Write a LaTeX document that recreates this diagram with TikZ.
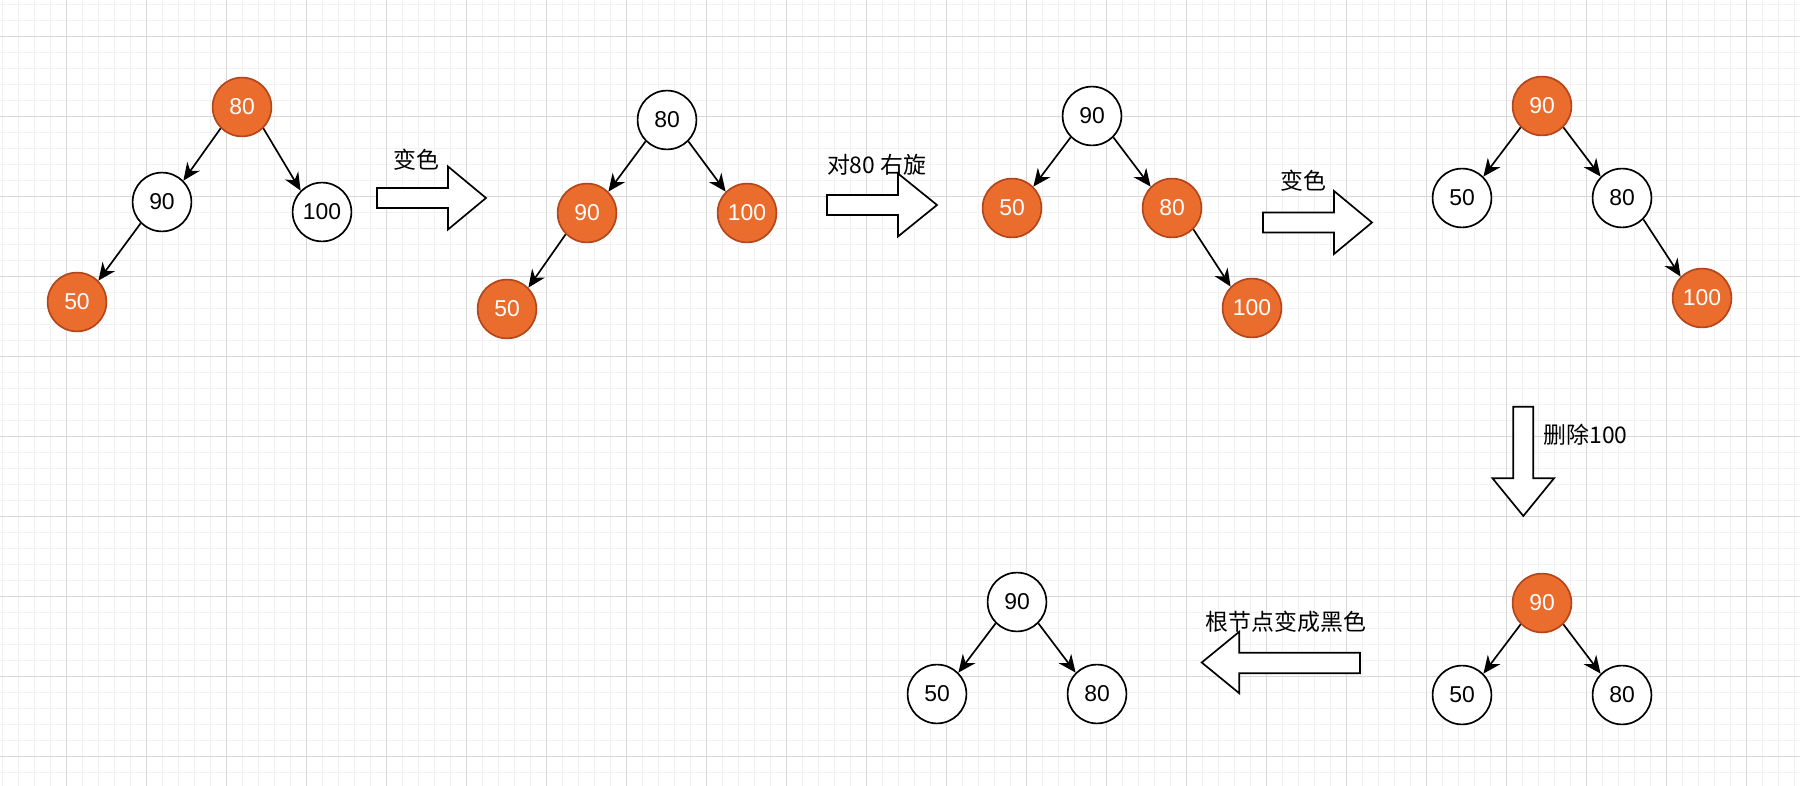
\documentclass[tikz,border=0pt]{standalone}
\usepackage{fontspec}
\setmainfont{Liberation Sans}
\newfontfamily\cjk{Noto Sans CJK SC}
\usetikzlibrary{arrows.meta}

\definecolor{rbred}{HTML}{EA6D2E}
\definecolor{rbredline}{HTML}{B5461B}
\definecolor{gridminor}{HTML}{F2F2F2}
\definecolor{gridmajor}{HTML}{D8D8D8}

\tikzset{
	rbnode/.style={circle, draw=black, fill=white, line width=1.2pt, minimum size=1.47cm, inner sep=0pt, font=\fontsize{16.3}{18}\selectfont},
	rednode/.style={rbnode, draw=rbredline, fill=rbred, text=white},
	edge/.style={line width=1.2pt, -{Stealth[length=12.5pt,width=11pt,inset=4pt]}},
	bigarrow/.style={draw=black, fill=white, line width=1.2pt, line join=miter},
	steplabel/.style={font=\cjk\fontsize{16.3}{18}\selectfont, inner sep=0pt},
}

\begin{document}
\begin{tikzpicture}[x=0.025cm, y=-0.025cm]
	\useasboundingbox (0,0) rectangle (1800,786);
	\fill[white] (0,0) rectangle (1800,786);
	
	% grid
	\foreach \gx in {2.7,18.7,...,1800}
		\draw[gridminor, line width=0.7pt] (\gx,0) -- (\gx,786);
	\foreach \gy in {4,20,...,786}
		\draw[gridminor, line width=0.7pt] (0,\gy) -- (1800,\gy);
	\foreach \gx in {66.7,146.7,...,1800}
		\draw[gridmajor, line width=0.7pt] (\gx,0) -- (\gx,786);
	\foreach \gy in {36,116,...,786}
		\draw[gridmajor, line width=0.7pt] (0,\gy) -- (1800,\gy);
	
	% tree a
	\node[rednode] (a80) at (242,107) {80};
	\node[rbnode] (a90) at (162,202) {90};
	\node[rbnode] (a100) at (322,212) {100};
	\node[rednode] (a50) at (77,302) {50};
	\draw[edge] (a80.225) -- (a90.45);
	\draw[edge] (a80.-45) -- (a100.135);
	\draw[edge] (a90.225) -- (a50.45);
	
	\draw[bigarrow] (377,188) -- (448,188) -- (448,166.5) -- (486,198) -- (448,229.5) -- (448,208) -- (377,208) -- cycle;
	\node[steplabel] (lbla) at (416.7,159.3) {变色};
	
	% tree b
	\node[rbnode] (b80) at (667,120) {80};
	\node[rednode] (b90) at (587,213) {90};
	\node[rednode] (b100) at (747,213) {100};
	\node[rednode] (b50) at (507,309) {50};
	\draw[edge] (b80.225) -- (b90.45);
	\draw[edge] (b80.-45) -- (b100.135);
	\draw[edge] (b90.225) -- (b50.45);
	
	\draw[bigarrow] (827,195) -- (898,195) -- (898,173.5) -- (937,205) -- (898,236.5) -- (898,215) -- (827,215) -- cycle;
	\node[steplabel] (lblb) at (876.7,165) {对80 右旋};
	
	% tree c
	\node[rbnode] (c90) at (1092,116) {90};
	\node[rednode] (c50) at (1012,208) {50};
	\node[rednode] (c80) at (1172,208) {80};
	\node[rednode] (c100) at (1252,308) {100};
	\draw[edge] (c90.225) -- (c50.45);
	\draw[edge] (c90.-45) -- (c80.135);
	\draw[edge] (c80.-45) -- (c100.135);
	
	\draw[bigarrow] (1263,212.5) -- (1334,212.5) -- (1334,191) -- (1372,222.5) -- (1334,254) -- (1334,232.5) -- (1263,232.5) -- cycle;
	\node[steplabel] (lblc) at (1303,181) {变色};
	
	% tree d
	\node[rednode] (d90) at (1542,106) {90};
	\node[rbnode] (d50) at (1462,198) {50};
	\node[rbnode] (d80) at (1622,198) {80};
	\node[rednode] (d100) at (1702,298) {100};
	\draw[edge] (d90.225) -- (d50.45);
	\draw[edge] (d90.-45) -- (d80.135);
	\draw[edge] (d80.-45) -- (d100.135);
	
	\draw[bigarrow] (1513.3,406.7) -- (1533.3,406.7) -- (1533.3,478.3) -- (1554,478.3) -- (1523.3,516) -- (1492.5,478.3) -- (1513.3,478.3) -- cycle;
	\node[steplabel, anchor=west] (lbld) at (1543.3,435) {删除100};
	
	% tree e
	\node[rednode] (e90) at (1542,603) {90};
	\node[rbnode] (e50) at (1462,695) {50};
	\node[rbnode] (e80) at (1622,695) {80};
	\draw[edge] (e90.225) -- (e50.45);
	\draw[edge] (e90.-45) -- (e80.135);
	
	\draw[bigarrow] (1360,652.7) -- (1239.3,652.7) -- (1239.3,631.7) -- (1201.7,662.5) -- (1239.3,693.3) -- (1239.3,673.3) -- (1360,673.3) -- cycle;
	\node[steplabel] (lble) at (1286,621.7) {根节点变成黑色};
	
	% tree f
	\node[rbnode] (f90) at (1017,602) {90};
	\node[rbnode] (f50) at (937,694) {50};
	\node[rbnode] (f80) at (1097,694) {80};
	\draw[edge] (f90.225) -- (f50.45);
	\draw[edge] (f90.-45) -- (f80.135);
	
\end{tikzpicture}
\end{document}
